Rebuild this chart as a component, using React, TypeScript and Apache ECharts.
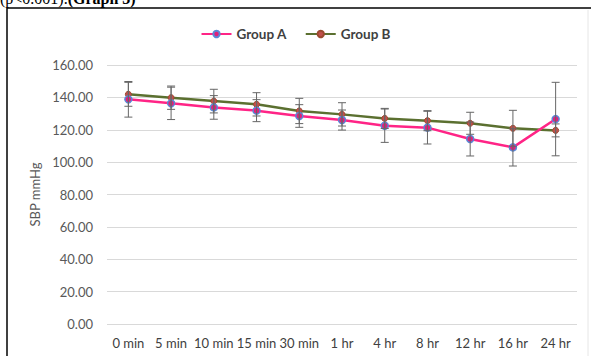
import React, { useEffect, useRef } from "react";
import * as echarts from "echarts";

const categories = ["0 min", "5 min", "10 min", "15 min", "30 min", "1 hr", "4 hr", "8 hr", "12 hr", "16 hr", "24 hr"];
const groupAMean = [138.8, 136.3, 133.8, 131.8, 128.5, 126.0, 122.5, 121.3, 114.3, 109.1, 126.6];
const groupASD = [11.0, 10.0, 7.3, 6.8, 7.0, 6.2, 10.3, 10.1, 10.5, 11.5, 22.7];
const groupBMean = [141.9, 139.8, 137.7, 135.7, 131.6, 129.5, 127.0, 125.6, 124.0, 120.9, 119.6];
const groupBSD = [7.4, 7.2, 7.3, 7.2, 7.8, 7.2, 6.2, 6.2, 6.8, 11.1, 4.0];
const yTicks = { min: 0, max: 160, interval: 20 };

export default function App() {
  const ref = useRef<HTMLDivElement>(null);
  useEffect(() => {
    if (!ref.current) return;
    const chart = echarts.init(ref.current, undefined, { renderer: "svg" });
    const errData: number[][] = [];
    categories.forEach((_, i) => {
      errData.push([i, groupAMean[i] - groupASD[i], groupAMean[i] + groupASD[i]]);
      errData.push([i, groupBMean[i] - groupBSD[i], groupBMean[i] + groupBSD[i]]);
    });
    const font = "Lato";
    chart.setOption({
      animation: false,
      textStyle: { fontFamily: font },
      graphic: [
        {
          type: "text",
          left: 0,
          top: -10,
          style: {
            text: "{r|(p<0.001).}{b|(Graph 3)}",
            rich: {
              r: { font: "16px 'Liberation Serif'", fill: "#000" },
              b: { font: "bold 16px 'Liberation Serif'", fill: "#000" },
            },
          },
        },
        { type: "line", shape: { x1: 7, y1: 8, x2: 591, y2: 8 }, style: { stroke: "#000", lineWidth: 1.5 } },
        { type: "line", shape: { x1: 7, y1: 8, x2: 7, y2: 356 }, style: { stroke: "#000", lineWidth: 1.5 } },
        { type: "line", shape: { x1: 588, y1: 10, x2: 588, y2: 356 }, style: { stroke: "#e6e6e6", lineWidth: 1 } },
      ],
      legend: {
        top: 22,
        left: "center",
        itemWidth: 30,
        itemHeight: 8,
        itemGap: 18,
        textStyle: { fontFamily: font, fontWeight: "bold", fontSize: 13.5, color: "#404040" },
        data: ["Group A", "Group B"],
      },
      grid: { left: 107, right: 14, top: 65, bottom: 32 },
      xAxis: {
        type: "category",
        data: categories,
        axisTick: { show: false },
        axisLine: { show: false },
        axisLabel: { interval: 0, color: "#404040", fontSize: 13, margin: 12, fontFamily: font },
      },
      yAxis: {
        type: "value",
        min: yTicks.min,
        max: yTicks.max,
        interval: yTicks.interval,
        name: "SBP mmHg",
        nameLocation: "middle",
        nameGap: 64,
        nameTextStyle: { color: "#595959", fontSize: 13, fontFamily: font },
        axisLabel: {
          color: "#595959",
          fontSize: 13,
          margin: 14,
          fontFamily: font,
          formatter: (v: number) => v.toFixed(2),
        },
        splitLine: { lineStyle: { color: "#d9d9d9", width: 1 } },
        axisLine: { show: false },
        axisTick: { show: false },
      },
      series: [
        {
          name: "Group A",
          type: "line",
          data: groupAMean,
          symbol: "circle",
          symbolSize: 7,
          lineStyle: { color: "#ff2486", width: 2.5 },
          itemStyle: { color: "#e0207a", borderColor: "#5b87d6", borderWidth: 1.5 },
          z: 3,
        },
        {
          name: "Group B",
          type: "line",
          data: groupBMean,
          symbol: "circle",
          symbolSize: 6,
          lineStyle: { color: "#5b7030", width: 2.5 },
          itemStyle: { color: "#c0504d", borderColor: "#9c4a30", borderWidth: 1 },
          z: 2,
        },
        {
          type: "custom",
          data: errData,
          z: 4,
          renderItem: (params: any, api: any) => {
            const x = api.value(0);
            const lo = api.coord([x, api.value(1)]);
            const hi = api.coord([x, api.value(2)]);
            const hw = 4;
            const style = { stroke: "#666666", lineWidth: 1 };
            return {
              type: "group",
              children: [
                { type: "line", shape: { x1: lo[0], y1: lo[1], x2: hi[0], y2: hi[1] }, style },
                { type: "line", shape: { x1: lo[0] - hw, y1: lo[1], x2: lo[0] + hw, y2: lo[1] }, style },
                { type: "line", shape: { x1: hi[0] - hw, y1: hi[1], x2: hi[0] + hw, y2: hi[1] }, style },
              ],
            };
          },
        },
      ],
    });
    return () => chart.dispose();
  }, []);
  return <div ref={ref} style={{ position: "fixed", left: 0, top: 0, width: 591, height: 356, background: "#fff" }} />;
}
